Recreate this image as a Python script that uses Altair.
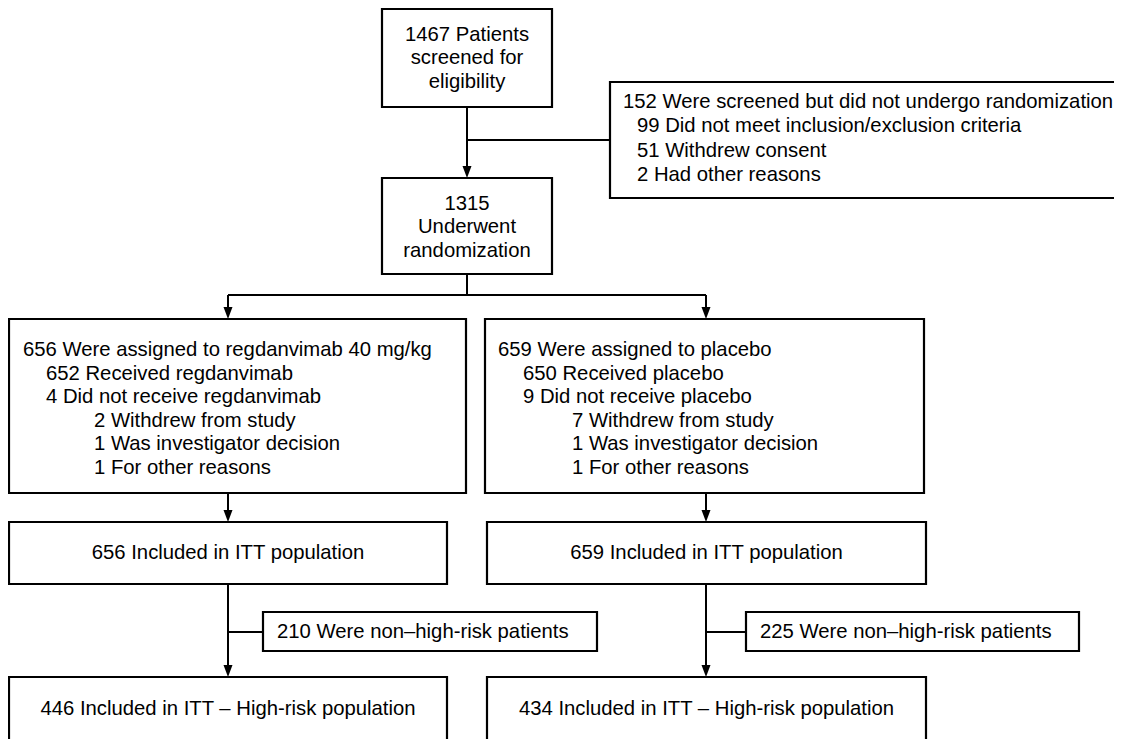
import altair as alt
import pandas as pd

# ---- box contents (text) ----
screened = ["1467 Patients", "screened for", "eligibility"]
excluded = ["152 Were screened but did not undergo randomization",
            "99 Did not meet inclusion/exclusion criteria",
            "51 Withdrew consent",
            "2 Had other reasons"]
excluded_levels = [0, 1, 1, 1]
randomized = ["1315", "Underwent", "randomization"]
arm_reg = ["656 Were assigned to regdanvimab 40 mg/kg",
           "652 Received regdanvimab",
           "4  Did not receive regdanvimab",
           "2 Withdrew from study",
           "1 Was investigator decision",
           "1 For other reasons"]
arm_pla = ["659 Were assigned to placebo",
           "650 Received placebo",
           "9 Did not receive placebo",
           "7 Withdrew from study",
           "1 Was investigator decision",
           "1 For other reasons"]
arm_levels = [0, 1, 1, 2, 2, 2]
itt = ["656 Included in ITT population", "659 Included in ITT population"]
nonhigh = ["210 Were non\u2013high-risk patients", "225 Were non\u2013high-risk patients"]
highrisk = ["446 Included in ITT \u2013 High-risk population",
            "434 Included in ITT \u2013 High-risk population"]

# ---- layout (pixel-like coordinates, y downwards) ----
boxes = {
    "screened": (382, 9, 552, 107),
    "excluded": (610, 82, 1130, 198),
    "randomized": (382, 178, 552, 274),
    "armL": (9, 319, 466, 493),
    "armR": (485, 319, 924, 493),
    "ittL": (9, 522, 447, 584),
    "ittR": (487, 522, 926, 584),
    "sideL": (263, 612, 597, 651),
    "sideR": (746, 612, 1079, 651),
    "hrL": (9, 677, 447, 745),
    "hrR": (487, 677, 926, 745),
}
LH = 23.5
XL, XR, XC = 228, 706, 467

box_df = pd.DataFrame([dict(name=k, x=v[0], y=v[1], x2=v[2], y2=v[3]) for k, v in boxes.items()])

lines_df = pd.DataFrame([
    dict(x=XC, y=107, x2=XC, y2=172),
    dict(x=XC, y=140, x2=610, y2=140),
    dict(x=XC, y=274, x2=XC, y2=295),
    dict(x=XL, y=295, x2=XR, y2=295),
    dict(x=XL, y=295, x2=XL, y2=314),
    dict(x=XR, y=295, x2=XR, y2=314),
    dict(x=XL, y=493, x2=XL, y2=517),
    dict(x=XR, y=493, x2=XR, y2=517),
    dict(x=XL, y=584, x2=XL, y2=672),
    dict(x=XR, y=584, x2=XR, y2=672),
    dict(x=XL, y=632, x2=263, y2=632),
    dict(x=XR, y=632, x2=746, y2=632),
])

arrows_df = pd.DataFrame([
    dict(x=XC, y=178), dict(x=XL, y=319), dict(x=XR, y=319),
    dict(x=XL, y=522), dict(x=XR, y=522), dict(x=XL, y=677), dict(x=XR, y=677),
])

center_rows, left_rows = [], []

def centered(lines, key, cy=None):
    x1, y1, x2, y2 = boxes[key]
    cx = (x1 + x2) / 2
    if cy is None:
        cy = (y1 + y2) / 2
    n = len(lines)
    for i, t in enumerate(lines):
        center_rows.append(dict(text=t, x=cx, y=cy + (i - (n - 1) / 2) * LH))

def lefted(lines, levels, key, indents, y0, lh):
    x1 = boxes[key][0]
    for i, (t, lv) in enumerate(zip(lines, levels)):
        left_rows.append(dict(text=t, x=x1 + indents[lv], y=y0 + i * lh))

centered(screened, "screened")
centered(randomized, "randomized", 227)
centered([itt[0]], "ittL")
centered([itt[1]], "ittR")
centered([highrisk[0]], "hrL", 709)
centered([highrisk[1]], "hrR", 709)
lefted(excluded, excluded_levels, "excluded", [13, 27], 102, 24.3)
lefted(arm_reg, arm_levels, "armL", [14, 37, 85], 350, LH)
lefted(arm_pla, arm_levels, "armR", [13, 38, 87], 350, LH)
lefted([nonhigh[0]], [0], "sideL", [14], 632, LH)
lefted([nonhigh[1]], [0], "sideR", [14], 632, LH)

center_df = pd.DataFrame(center_rows)
left_df = pd.DataFrame(left_rows)

W, H = 1106, 731
xs = alt.Scale(domain=[8, 8 + W], nice=False, zero=False)
ys = alt.Scale(domain=[8, 8 + H], nice=False, zero=False, reverse=True)

def X(f="x"):
    return alt.X(f, type="quantitative", scale=xs, axis=None)

def Y(f="y"):
    return alt.Y(f, type="quantitative", scale=ys, axis=None)

FONT = "Liberation Sans"
FS = 20.3

rules = alt.Chart(lines_df).mark_rule(color="black", strokeWidth=2).encode(
    x=X(), y=Y(), x2="x2", y2="y2")

rects = alt.Chart(box_df).mark_rect(fill="white", stroke="black", strokeWidth=2.2).encode(
    x=X(), y=Y(), x2="x2", y2="y2")

arrows = alt.Chart(arrows_df).mark_point(
    shape="M-0.75,-1L0.75,-1L0,1Z", filled=True, fill="black", opacity=1,
    size=144, strokeWidth=0, yOffset=-6).encode(x=X(), y=Y())

ctext = alt.Chart(center_df).mark_text(
    align="center", baseline="middle", font=FONT, fontSize=FS, color="black").encode(
    x=X(), y=Y(), text="text:N")

ltext = alt.Chart(left_df).mark_text(
    align="left", baseline="middle", font=FONT, fontSize=FS, color="black").encode(
    x=X(), y=Y(), text="text:N")

chart = alt.layer(rules, rects, arrows, ctext, ltext).properties(
    width=W, height=H,
    autosize=alt.AutoSizeParams(type="none"),
    padding=0,
    background="white",
).configure_view(stroke=None)

chart.save("out.html", embed_options={"renderer": "svg", "actions": False})
